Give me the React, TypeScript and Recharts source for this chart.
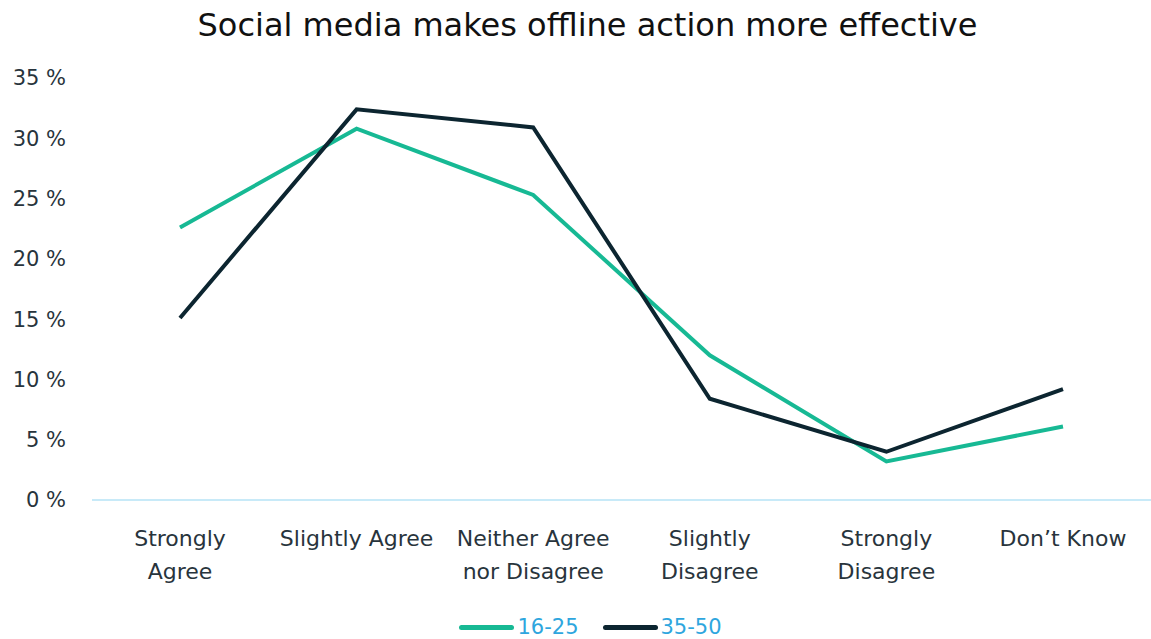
import { LineChart, Line, XAxis, YAxis } from "recharts"

const categories = ["Strongly Agree", "Slightly Agree", "Neither Agree nor Disagree", "Slightly Disagree", "Strongly Disagree", "Don't Know"]
const tickLines = [["Strongly", "Agree"], ["Slightly Agree"], ["Neither Agree", "nor Disagree"], ["Slightly", "Disagree"], ["Strongly", "Disagree"], ["Don\u2019t Know"]]
const young = [22.6, 30.8, 25.3, 12.0, 3.2, 6.1]
const older = [15.1, 32.4, 30.9, 8.4, 4.0, 9.2]
const yTicks = [0, 5, 10, 15, 20, 25, 30, 35]
const seriesNames = ["16-25", "35-50"]

const data = categories.map((c, i) => ({ cat: c, a: young[i], b: older[i] }))

const FONT = "'DejaVu Sans', sans-serif"
const TEAL = "#17b994"
const DARK = "#0c2530"

const XTick = (props: any) => {
  const { x, y, index } = props
  const lines = tickLines[index] || []
  return (
    <text x={x} y={y} textAnchor="middle" fill="#28343c" fontFamily={FONT} fontSize={22}>
      {lines.map((l, i) => (
        <tspan key={i} x={x} dy={i === 0 ? 44 : 33}>{l}</tspan>
      ))}
    </text>
  )
}

export default function App() {
  return (
    <div style={{ position: "absolute", left: 0, top: 0, width: 1151, height: 639, background: "#fff" }}>
      <div style={{ position: "absolute", left: 12, top: 6, width: 1151, textAlign: "center", fontFamily: FONT, fontSize: 32, color: "#111" }}>
        Social media makes offline action more effective
      </div>
      <LineChart width={1151} height={639} data={data} margin={{ top: 78, right: 0, bottom: 79, left: 0 }}>
        <XAxis
          dataKey="cat"
          tick={<XTick />}
          tickLine={false}
          tickSize={0}
          axisLine={{ stroke: "#b6e3f6", strokeWidth: 1.5 }}
          interval={0}
          height={60}
          padding={{ left: 88, right: 88 }}
        />
        <YAxis
          domain={[0, 35]}
          ticks={yTicks}
          width={92}
          tickSize={0}
          tickMargin={26}
          axisLine={false}
          tickLine={false}
          tickFormatter={(v: number) => `${v} %`}
          tick={{ fill: "#28343c", fontFamily: FONT, fontSize: 21 }}
        />
        <Line type="linear" dataKey="a" name={seriesNames[0]} stroke={TEAL} strokeWidth={4} dot={false} isAnimationActive={false} />
        <Line type="linear" dataKey="b" name={seriesNames[1]} stroke={DARK} strokeWidth={4} dot={false} isAnimationActive={false} />
      </LineChart>
      <div style={{ position: "absolute", top: 615, left: 15, width: 1151, display: "flex", justifyContent: "center", alignItems: "center", fontFamily: FONT, fontSize: 21, color: "#2ea6de" }}>
        {seriesNames.map((n, i) => (
          <div key={n} style={{ display: "flex", alignItems: "center", marginLeft: i === 0 ? 0 : 24 }}>
            <div style={{ width: 55, height: 5, borderRadius: 3, background: i === 0 ? TEAL : DARK, marginRight: 3 }} />
            <span>{n}</span>
          </div>
        ))}
      </div>
    </div>
  )
}
